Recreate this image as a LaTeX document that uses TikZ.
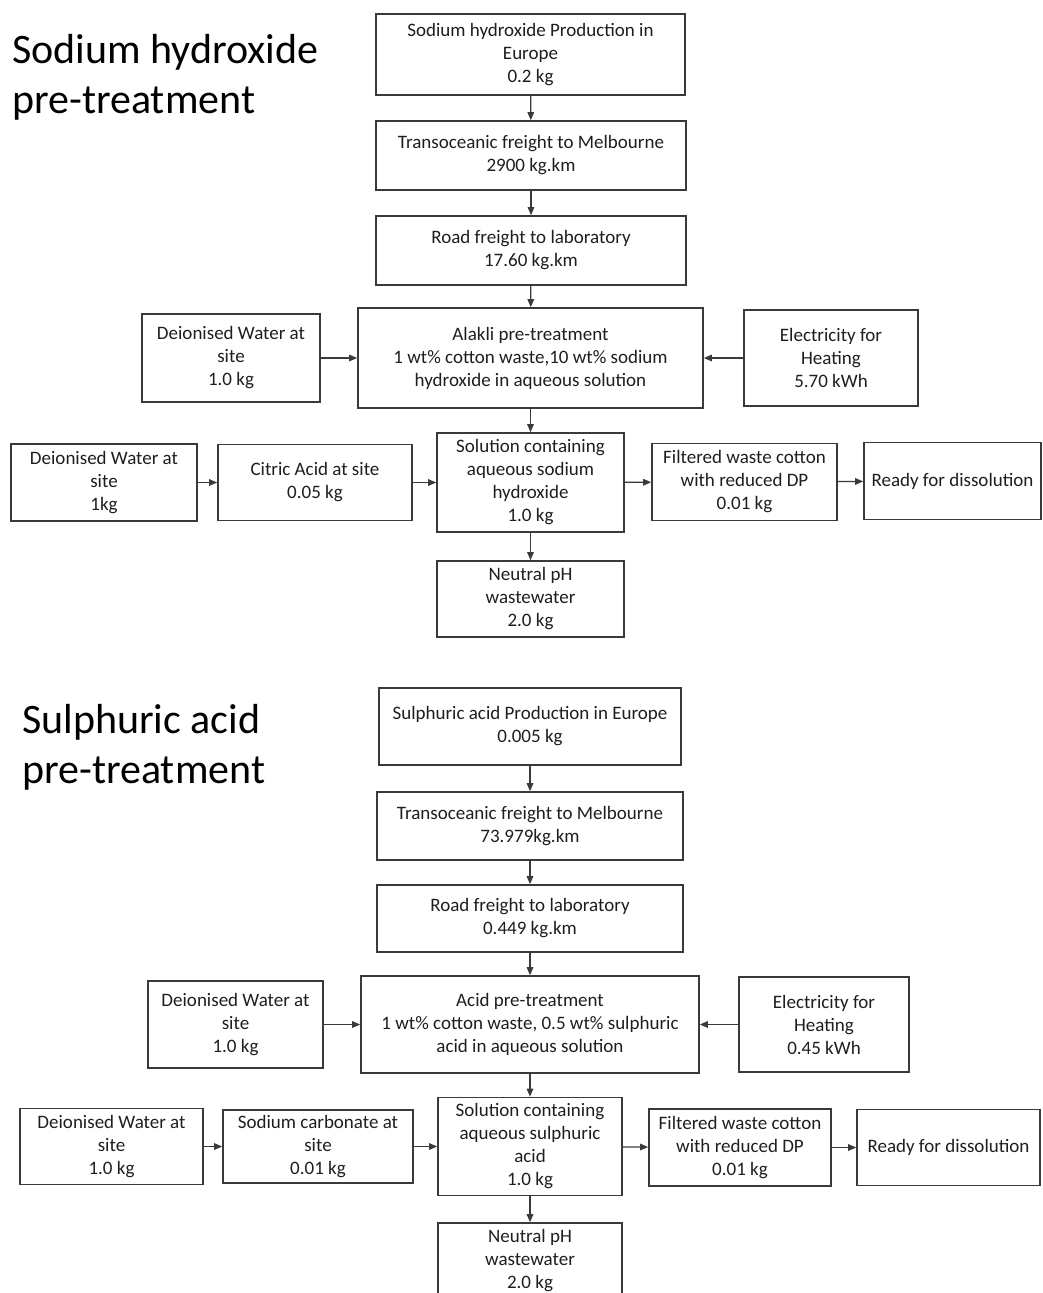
\documentclass[tikz,border=0pt]{standalone}
\usepackage{fontspec}
\setmainfont{Carlito}
\usetikzlibrary{arrows.meta}
\definecolor{txtgray}{HTML}{1E1E1E}
\definecolor{linegray}{HTML}{3A3A3A}

\begin{document}
\begin{tikzpicture}[x=1pt,y=-1pt,
		box/.style={draw=linegray,line width=1.6pt,rectangle,align=center,inner sep=0pt,
			text=txtgray,font=\fontsize{19}{23}\selectfont},
		flow/.style={draw=linegray,line width=1.3pt,-{Triangle[length=8pt,width=6.5pt]}},
		heading/.style={anchor=base west,align=left,inner sep=0pt,text=black,
			font=\fontsize{42}{50}\selectfont}]
	\clip (0,0) rectangle (1042,1293);
	% sodium hydroxide
	\node[heading] (titleA) at (12,113) {Sodium hydroxide\\pre-treatment};
	\node[box,minimum width=309pt,minimum height=81pt] (prodA) at (530.5,54.5) {Sodium hydroxide Production in\\Europe\\0.2 kg};
	\node[box,minimum width=310pt,minimum height=69pt] (shipA) at (531,155.5) {Transoceanic freight to Melbourne\\2900 kg.km};
	\node[box,minimum width=310pt,minimum height=69pt] (roadA) at (531,250.5) {Road freight to laboratory\\17.60 kg.km};
	\node[box,minimum width=345pt,minimum height=100pt] (treatA) at (530.5,358) {Alakli pre-treatment\\1 wt\% cotton waste,10 wt\% sodium\\hydroxide in aqueous solution};
	\node[box,minimum width=178pt,minimum height=88pt] (waterA) at (231,358) {Deionised Water at\\site\\1.0 kg};
	\node[box,minimum width=174pt,minimum height=96pt] (elecA) at (831,358) {Electricity for\\Heating\\5.70 kWh};
	\node[box,minimum width=186pt,minimum height=77pt] (rinseA) at (104,482.5) {Deionised Water at\\site\\1kg};
	\node[box,minimum width=194pt,minimum height=76pt] (neutA) at (315,482.5) {Citric Acid at site\\0.05 kg};
	\node[box,minimum width=187pt,minimum height=99pt] (solA) at (530.5,482.5) {Solution containing\\aqueous sodium\\hydroxide\\1.0 kg};
	\node[box,minimum width=185pt,minimum height=77pt] (filtA) at (744.5,482) {Filtered waste cotton\\with reduced DP\\0.01 kg};
	\node[box,minimum width=177pt,minimum height=77pt] (readyA) at (952.5,481) {Ready for dissolution};
	\node[box,minimum width=187pt,minimum height=76pt] (wasteA) at (530.5,599) {Neutral pH\\wastewater\\2.0 kg};
	\draw[flow] (prodA) -- (shipA);
	\draw[flow] (shipA) -- (roadA);
	\draw[flow] (roadA) -- (treatA);
	\draw[flow] (waterA) -- (treatA);
	\draw[flow] (elecA) -- (treatA);
	\draw[flow] (treatA) -- (solA);
	\draw[flow] (rinseA) -- (neutA);
	\draw[flow] (neutA) -- (solA);
	\draw[flow] (solA) -- (filtA);
	\draw[flow] (filtA) -- (readyA);
	\draw[flow] (solA) -- (wasteA);
	% sulphuric acid
	\node[heading] (titleB) at (22,783) {Sulphuric acid\\pre-treatment};
	\node[box,minimum width=302pt,minimum height=77pt] (prodB) at (530,726.5) {Sulphuric acid Production in Europe\\0.005 kg};
	\node[box,minimum width=306pt,minimum height=68pt] (shipB) at (530,826) {Transoceanic freight to Melbourne\\73.979kg.km};
	\node[box,minimum width=306pt,minimum height=67pt] (roadB) at (530,918.5) {Road freight to laboratory\\0.449 kg.km};
	\node[box,minimum width=338pt,minimum height=97pt] (treatB) at (530,1024.5) {Acid pre-treatment\\1 wt\% cotton waste, 0.5 wt\% sulphuric\\acid in aqueous solution};
	\node[box,minimum width=175pt,minimum height=87pt] (waterB) at (235.5,1024.5) {Deionised Water at\\site\\1.0 kg};
	\node[box,minimum width=170pt,minimum height=95pt] (elecB) at (824,1024.5) {Electricity for\\Heating\\0.45 kWh};
	\node[box,minimum width=183pt,minimum height=76pt] (rinseB) at (111.5,1146.5) {Deionised Water at\\site\\1.0 kg};
	\node[box,minimum width=190pt,minimum height=73pt] (neutB) at (318,1146.5) {Sodium carbonate at\\site\\0.01 kg};
	\node[box,minimum width=184pt,minimum height=98pt] (solB) at (530,1146.5) {Solution containing\\aqueous sulphuric\\acid\\1.0 kg};
	\node[box,minimum width=182pt,minimum height=77pt] (filtB) at (740,1147.5) {Filtered waste cotton\\with reduced DP\\0.01 kg};
	\node[box,minimum width=183pt,minimum height=76pt] (readyB) at (948.5,1147.5) {Ready for dissolution};
	\node[box,minimum width=184pt,minimum height=76pt] (wasteB) at (530,1261) {Neutral pH\\wastewater\\2.0 kg};
	\draw[flow] (prodB) -- (shipB);
	\draw[flow] (shipB) -- (roadB);
	\draw[flow] (roadB) -- (treatB);
	\draw[flow] (waterB) -- (treatB);
	\draw[flow] (elecB) -- (treatB);
	\draw[flow] (treatB) -- (solB);
	\draw[flow] (rinseB) -- (neutB);
	\draw[flow] (neutB) -- (solB);
	\draw[flow] (solB) -- (filtB);
	\draw[flow] (filtB) -- (readyB);
	\draw[flow] (solB) -- (wasteB);
\end{tikzpicture}
\end{document}
